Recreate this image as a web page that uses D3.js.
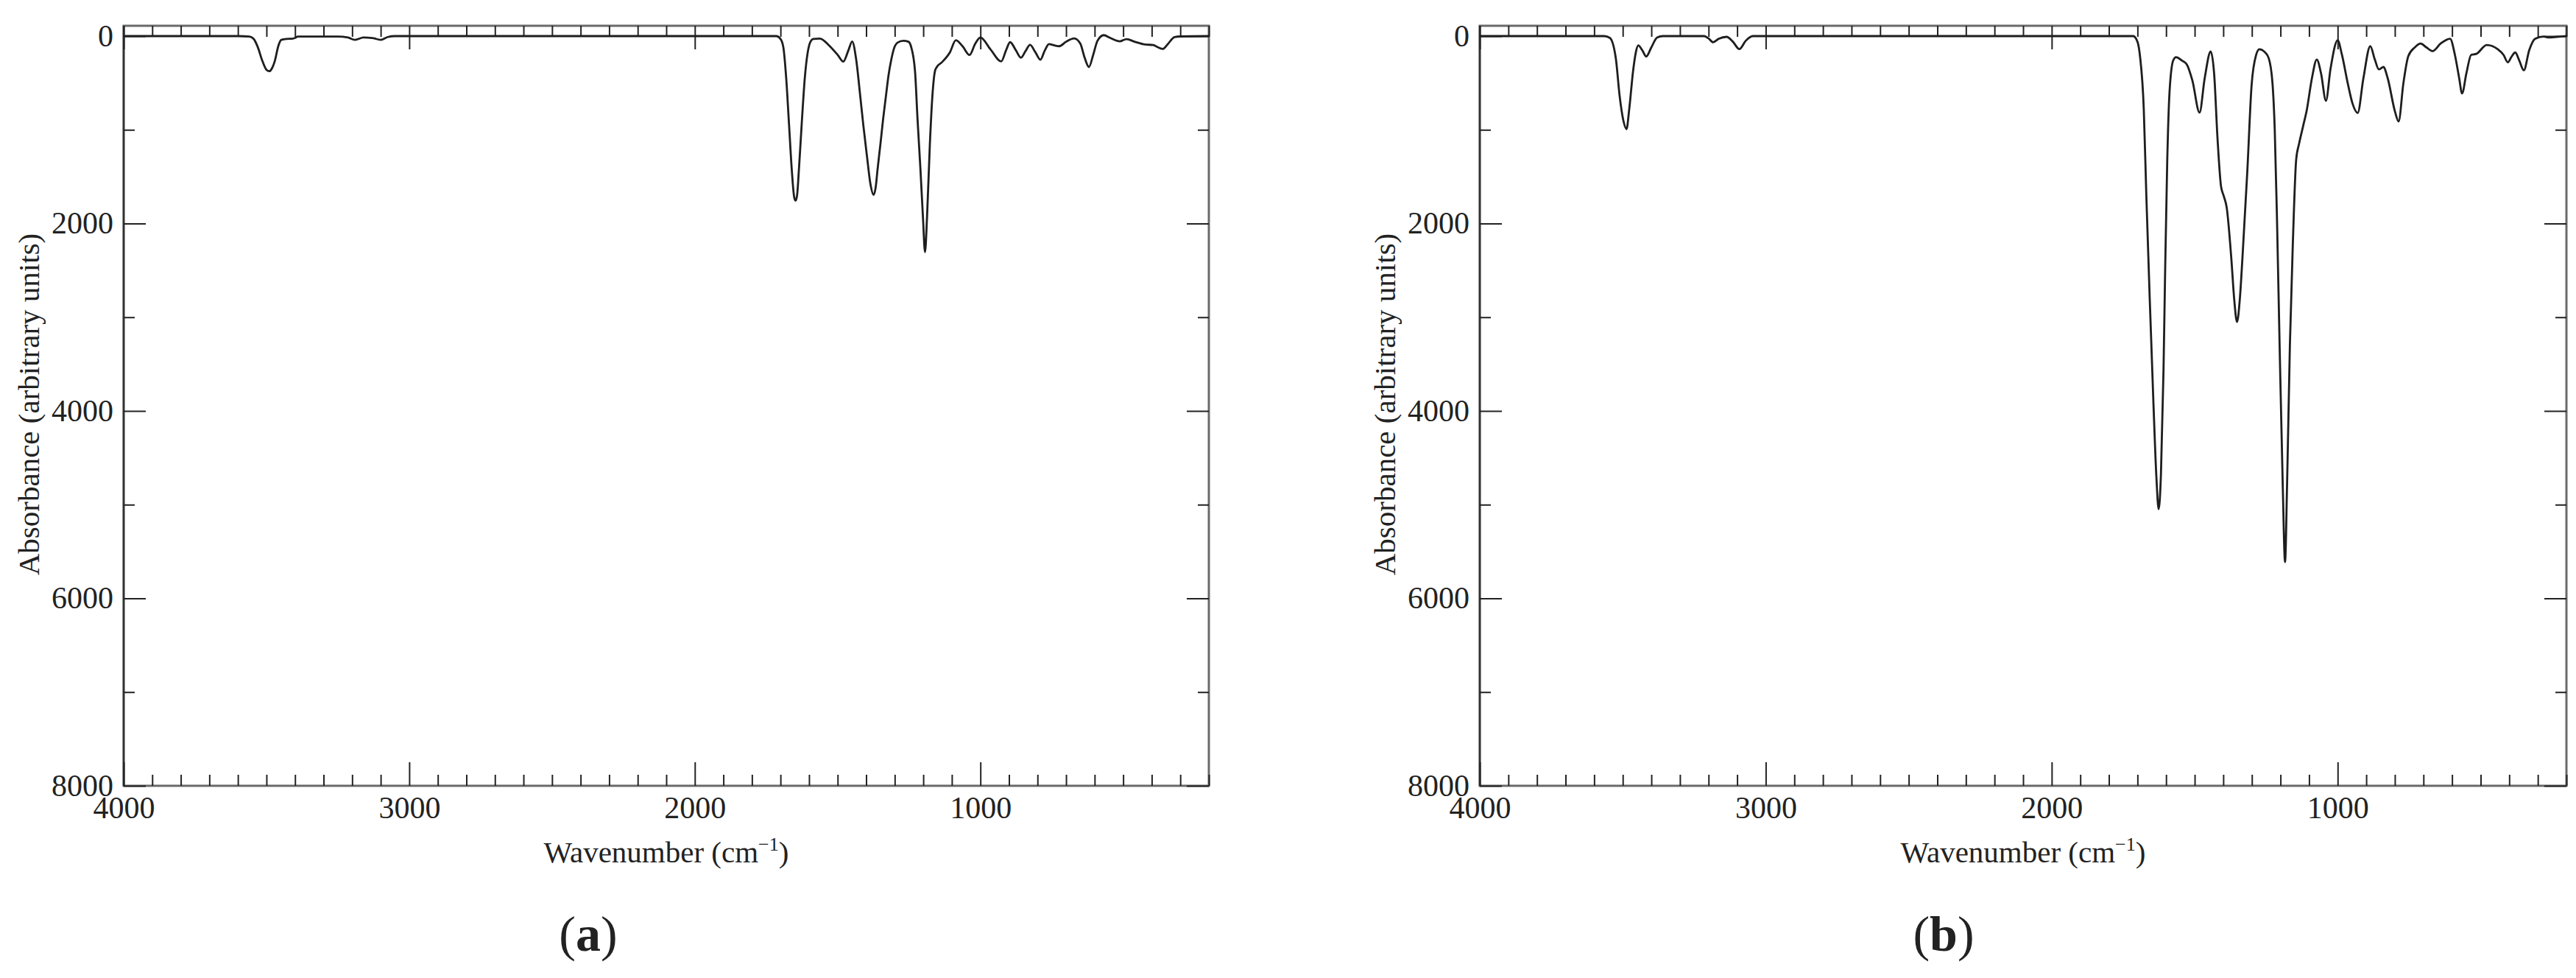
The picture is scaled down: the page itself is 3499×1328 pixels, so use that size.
<!DOCTYPE html>
<html>
<head>
<meta charset="utf-8">
<script src="https://cdn.jsdelivr.net/npm/d3@7"></script>
<style>
  body { margin: 0; background: #fff; }
  text { font-family: "Liberation Serif", "Times New Roman", serif; fill: #222; }
</style>
</head>
<body>
<div id="chart"></div>
<script>
// spectrum (a): [wavenumber, absorbance]
var spectrumA = [
  [4000, 0], [3600, 0], [3560, 5], [3545, 30], [3531, 113], [3514, 268], [3500, 360], [3490, 375],
  [3480, 340], [3471, 268], [3458, 100], [3448, 40], [3430, 30], [3410, 28], [3400, 20], [3390, 5],
  [3250, 5], [3215, 15], [3190, 40], [3160, 15], [3130, 20], [3100, 40], [3075, 10], [3050, 0],
  [1715, 0], [1700, 30], [1690, 120], [1680, 450], [1670, 950], [1660, 1450], [1652, 1720], [1647, 1756],
  [1642, 1700], [1635, 1400], [1625, 900], [1615, 450], [1605, 180], [1595, 60], [1585, 30],
  [1562, 26], [1530, 100], [1500, 200], [1480, 272], [1462, 150], [1449, 58], [1435, 250],
  [1421, 634], [1410, 950], [1397, 1288], [1385, 1580], [1374, 1694], [1367, 1620], [1360, 1419],
  [1350, 1150], [1341, 895], [1330, 620], [1322, 424], [1312, 250], [1303, 136], [1290, 70],
  [1270, 50], [1252, 60], [1243, 110], [1229, 372], [1220, 895], [1210, 1419], [1201, 1942],
  [1194, 2305], [1187, 1942], [1177, 1157], [1168, 634], [1159, 372], [1153, 332], [1135, 280],
  [1107, 175], [1086, 45], [1062, 110], [1038, 202], [1018, 80], [1000, 15], [965, 140],
  [927, 270], [910, 150], [896, 65], [876, 150], [858, 230], [842, 160], [826, 94], [808, 170],
  [790, 252], [774, 150], [760, 85], [740, 100], [724, 108], [700, 60], [672, 24], [650, 80],
  [635, 230], [620, 330], [605, 200], [590, 50], [568, -10], [545, 20], [512, 56], [488, 32],
  [460, 60], [423, 90], [395, 95], [378, 120], [361, 137], [345, 90], [320, 10], [300, 4], [200, 0]
];

// spectrum (b): [wavenumber, absorbance]
var spectrumB = [
  [4000, 0], [3565, 0], [3545, 20], [3524, 244], [3511, 638], [3498, 900], [3487, 992], [3477, 769],
  [3464, 375], [3454, 170], [3446, 100], [3432, 150], [3418, 218], [3400, 120], [3380, 15], [3360, 0],
  [3215, 0], [3200, 25], [3184, 66], [3165, 30], [3137, 8], [3115, 60], [3092, 139], [3070, 50], [3045, 0],
  [1715, 0], [1700, 60], [1691, 220], [1678, 780], [1669, 1710], [1657, 2820], [1644, 3938],
  [1634, 4700], [1626, 5047], [1618, 4680], [1609, 3566], [1603, 2449], [1596, 1337], [1588, 600],
  [1575, 259], [1565, 225], [1545, 260], [1528, 300], [1508, 474], [1483, 816], [1465, 450],
  [1444, 165], [1432, 400], [1420, 1100], [1408, 1600], [1398, 1710], [1388, 1830], [1372, 2368],
  [1362, 2800], [1352, 3050], [1342, 2800], [1333, 2368], [1316, 1447], [1301, 526], [1285, 200],
  [1274, 140], [1255, 170], [1241, 237], [1228, 500], [1220, 1000], [1212, 1974], [1203, 3300],
  [1192, 4800], [1184, 5613], [1177, 4800], [1167, 3289], [1157, 2237], [1145, 1316], [1135, 1150],
  [1120, 950], [1108, 789], [1090, 450], [1073, 250], [1058, 400], [1041, 690], [1025, 350],
  [1000, 45], [985, 200], [965, 500], [948, 720], [930, 820], [910, 450], [886, 108], [870, 250],
  [856, 355], [840, 330], [825, 450], [800, 800], [787, 910], [770, 500], [753, 215], [730, 120],
  [710, 80], [690, 120], [668, 160], [640, 80], [607, 28], [590, 200], [575, 450], [565, 612],
  [550, 400], [533, 200], [515, 190], [479, 95], [440, 140], [420, 200], [405, 280], [392, 220],
  [379, 175], [365, 260], [349, 365], [330, 150], [310, 30], [280, 5], [260, 15], [240, 10], [200, 0]
];

var xMajorTicks = [4000, 3000, 2000, 1000];
var yMajorTicks = [0, 2000, 4000, 6000, 8000];
var yMinorTicks = [1000, 3000, 5000, 7000];
var panelLabels = ["a", "b"];
var xTitle = "Wavenumber (cm";
var yTitle = "Absorbance (arbitrary units)";

// minor x ticks every 100 cm-1 (not on a major)
var xMinorTicks = d3.range(3900, 199, -100).filter(function (v) {
  return v % 1000 !== 0;
});

var svg = d3.select("#chart").append("svg")
  .attr("width", 3499)
  .attr("height", 1328);

var panels = [
  { data: spectrumA, left: 168, right: 1642, label: panelLabels[0], labelX: 799 },
  { data: spectrumB, left: 2010, right: 3486, label: panelLabels[1], labelX: 2640 }
];
var plotTop = 35, plotBottom = 1067;

panels.forEach(function (p) {
  var width = p.right - p.left;
  var height = plotBottom - plotTop;

  var x = d3.scaleLinear().domain([4000, 200]).range([0, width]);
  var y = d3.scaleLinear().domain([-110, 8000]).range([0, height]);

  var g = svg.append("g").attr("transform", "translate(" + p.left + "," + plotTop + ")");

  // frame
  g.append("rect")
    .attr("width", width).attr("height", height)
    .attr("fill", "none").attr("stroke", "#6a6a6a").attr("stroke-width", 3);
  g.append("line")
    .attr("x1", 0).attr("x2", 0).attr("y1", 0).attr("y2", height)
    .attr("stroke", "#333").attr("stroke-width", 2.5);

  function styleAxis(sel) {
    sel.select(".domain").remove();
    sel.selectAll(".tick line").attr("stroke", "#222").attr("stroke-width", 2);
    sel.selectAll(".tick text").attr("font-size", 42).attr("fill", "#222")
      .attr("font-family", "Liberation Serif, serif");
  }

  // bottom axis with labels
  g.append("g").attr("transform", "translate(0," + height + ")")
    .call(d3.axisBottom(x).tickValues(xMajorTicks).tickSize(-32).tickPadding(14).tickFormat(d3.format("d")))
    .call(styleAxis);
  g.append("g").attr("transform", "translate(0," + height + ")")
    .call(d3.axisBottom(x).tickValues(xMinorTicks).tickSize(-15).tickFormat(""))
    .call(styleAxis);
  // top axis (ticks only)
  g.append("g")
    .call(d3.axisTop(x).tickValues(xMajorTicks).tickSize(-32).tickFormat(""))
    .call(styleAxis);
  g.append("g")
    .call(d3.axisTop(x).tickValues(xMinorTicks).tickSize(-15).tickFormat(""))
    .call(styleAxis);

  // left axis with labels
  g.append("g")
    .call(d3.axisLeft(y).tickValues(yMajorTicks).tickSize(-30).tickPadding(14).tickFormat(d3.format("d")))
    .call(styleAxis);
  g.append("g")
    .call(d3.axisLeft(y).tickValues(yMinorTicks).tickSize(-15).tickFormat(""))
    .call(styleAxis);
  // right axis (ticks only)
  g.append("g").attr("transform", "translate(" + width + ",0)")
    .call(d3.axisRight(y).tickValues(yMajorTicks).tickSize(-30).tickFormat(""))
    .call(styleAxis);
  g.append("g").attr("transform", "translate(" + width + ",0)")
    .call(d3.axisRight(y).tickValues(yMinorTicks).tickSize(-15).tickFormat(""))
    .call(styleAxis);

  // spectrum line
  var line = d3.line()
    .x(function (d) { return x(d[0]); })
    .y(function (d) { return y(d[1]); })
    .curve(d3.curveMonotoneX);

  g.append("path")
    .datum(p.data)
    .attr("fill", "none")
    .attr("stroke", "#1e1e1e")
    .attr("stroke-width", 2.8)
    .attr("stroke-linejoin", "round")
    .attr("d", line);

  // axis titles
  var xt = g.append("text")
    .attr("x", width / 2).attr("y", 1171 - plotTop)
    .attr("text-anchor", "middle")
    .attr("font-size", 41);
  xt.append("tspan").text(xTitle);
  xt.append("tspan").attr("font-size", 26).attr("dy", -16).text("\u22121");
  xt.append("tspan").attr("dy", 16).text(")");

  g.append("text")
    .attr("transform", "translate(" + (-128 + 13) + "," + (549 - plotTop) + ") rotate(-90)")
    .attr("text-anchor", "middle")
    .attr("font-size", 41)
    .text(yTitle);

  // panel label
  var pl = svg.append("text")
    .attr("x", p.labelX).attr("y", 1291)
    .attr("text-anchor", "middle")
    .attr("font-size", 68);
  pl.append("tspan").text("(");
  pl.append("tspan").attr("font-weight", "bold").text(p.label);
  pl.append("tspan").text(")");
});
</script>
</body>
</html>
